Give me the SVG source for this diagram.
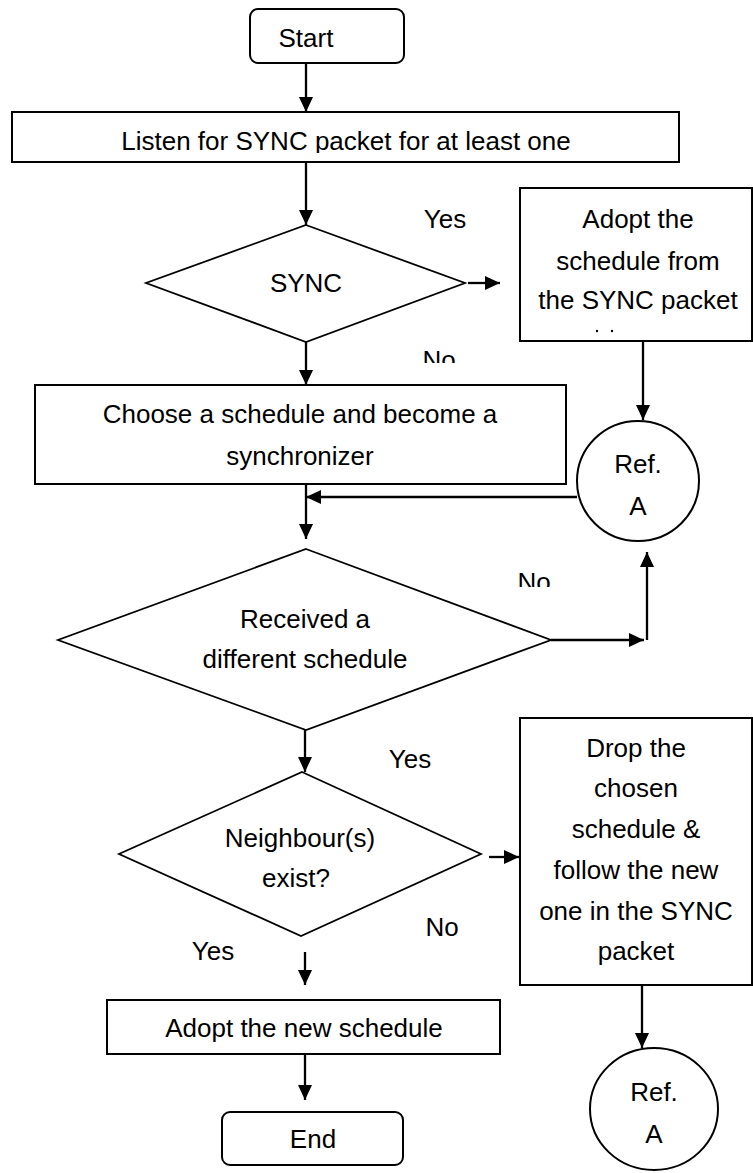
<svg xmlns="http://www.w3.org/2000/svg" width="753" height="1173" viewBox="0 0 753 1173">
<style>
text{font-family:"Liberation Sans",Arial,sans-serif;font-size:26px;fill:#000;text-anchor:middle}
.box{fill:#fff;stroke:#000;stroke-width:2}
.dia{fill:#fff;stroke:#000;stroke-width:1.8}
.con{fill:none;stroke:#000;stroke-width:2.3;marker-end:url(#ah)}
</style>
<defs>
<marker id="ah" viewBox="0 0 15 14" refX="15" refY="7" markerWidth="15" markerHeight="14" markerUnits="userSpaceOnUse" orient="auto">
<path d="M0,0 L15,7 L0,14 z" fill="#000"/>
</marker>
<clipPath id="clipListen"><rect x="0" y="100" width="753" height="53"/></clipPath>
<clipPath id="clipNo1"><rect x="400" y="330" width="80" height="33"/></clipPath>
<clipPath id="clipNo2"><rect x="500" y="560" width="80" height="27"/></clipPath>
</defs>
<rect width="753" height="1173" fill="#fff"/>

<g id="connectors">
<path class="con" d="M306,63 V112"/>
<path class="con" d="M306,162 V225"/>
<path class="con" d="M468,283 H500"/>
<path class="con" d="M306,342 V385"/>
<path class="con" d="M643,342 V420"/>
<path class="con" d="M577,497 H306"/>
<path class="con" d="M306,484 V539"/>
<path class="con" d="M551,640 H644"/>
<path class="con" d="M647,640 V552"/>
<path class="con" d="M305,730 V772"/>
<path class="con" d="M489,857 H519"/>
<path class="con" d="M642,985 V1048"/>
<path class="con" d="M305,952 V985"/>
<path class="con" d="M305,1054 V1100"/>
</g>

<g id="start">
<rect class="box" x="250" y="9" width="154" height="54" rx="8"/>
<text x="306" y="47">Start</text>
</g>

<g id="listen">
<rect class="box" x="12" y="112" width="667" height="50"/>
<text x="346" y="150" clip-path="url(#clipListen)">Listen for SYNC packet for at least one</text>
</g>

<g id="sync">
<polygon class="dia" points="306,225 465,283 306,342 146,283"/>
<text x="306" y="292">SYNC</text>
</g>

<g id="label-yes1"><text x="445" y="228">Yes</text></g>

<g id="adopt-sync">
<rect class="box" x="520" y="188" width="232" height="153"/>
<text x="638" y="228">Adopt the</text>
<text x="638" y="270">schedule from</text>
<text x="638" y="309">the SYNC packet</text>
<circle cx="597" cy="331" r="1.2" fill="#000"/>
<circle cx="612" cy="331" r="1.2" fill="#000"/>
</g>

<g id="label-no1"><text x="439" y="369" clip-path="url(#clipNo1)">No</text></g>

<g id="choose">
<rect class="box" x="35" y="385" width="531" height="99"/>
<text x="300" y="423">Choose a schedule and become a</text>
<text x="300" y="465">synchronizer</text>
</g>

<g id="refA1">
<ellipse class="box" cx="638" cy="481" rx="61" ry="60" stroke-width="1.8"/>
<text x="638" y="473">Ref.</text>
<text x="638" y="515">A</text>
</g>

<g id="received">
<polygon class="dia" points="306,549 551,640 306,730 58,640"/>
<text x="305" y="628">Received a</text>
<text x="305" y="668">different schedule</text>
</g>

<g id="label-no2"><text x="534" y="591" clip-path="url(#clipNo2)">No</text></g>

<g id="label-yes2"><text x="410" y="768">Yes</text></g>

<g id="neighbour">
<polygon class="dia" points="302,772 481,854 301,936 119,854"/>
<text x="300" y="847">Neighbour(s)</text>
<text x="296" y="887">exist?</text>
</g>

<g id="drop">
<rect class="box" x="520" y="718" width="232" height="267"/>
<text x="636" y="757">Drop the</text>
<text x="636" y="797">chosen</text>
<text x="636" y="838">schedule &amp;</text>
<text x="636" y="879">follow the new</text>
<text x="636" y="920">one in the SYNC</text>
<text x="636" y="960">packet</text>
</g>

<g id="label-no3"><text x="442" y="936">No</text></g>

<g id="label-yes3"><text x="213" y="960">Yes</text></g>

<g id="adopt-new">
<rect class="box" x="107" y="1000" width="393" height="54"/>
<text x="304" y="1037">Adopt the new schedule</text>
</g>

<g id="end">
<rect class="box" x="222" y="1112" width="181" height="53" rx="8"/>
<text x="313" y="1148">End</text>
</g>

<g id="refA2">
<ellipse class="box" cx="654" cy="1109" rx="64" ry="61" stroke-width="1.8"/>
<text x="654" y="1101">Ref.</text>
<text x="654" y="1143">A</text>
</g>
</svg>
